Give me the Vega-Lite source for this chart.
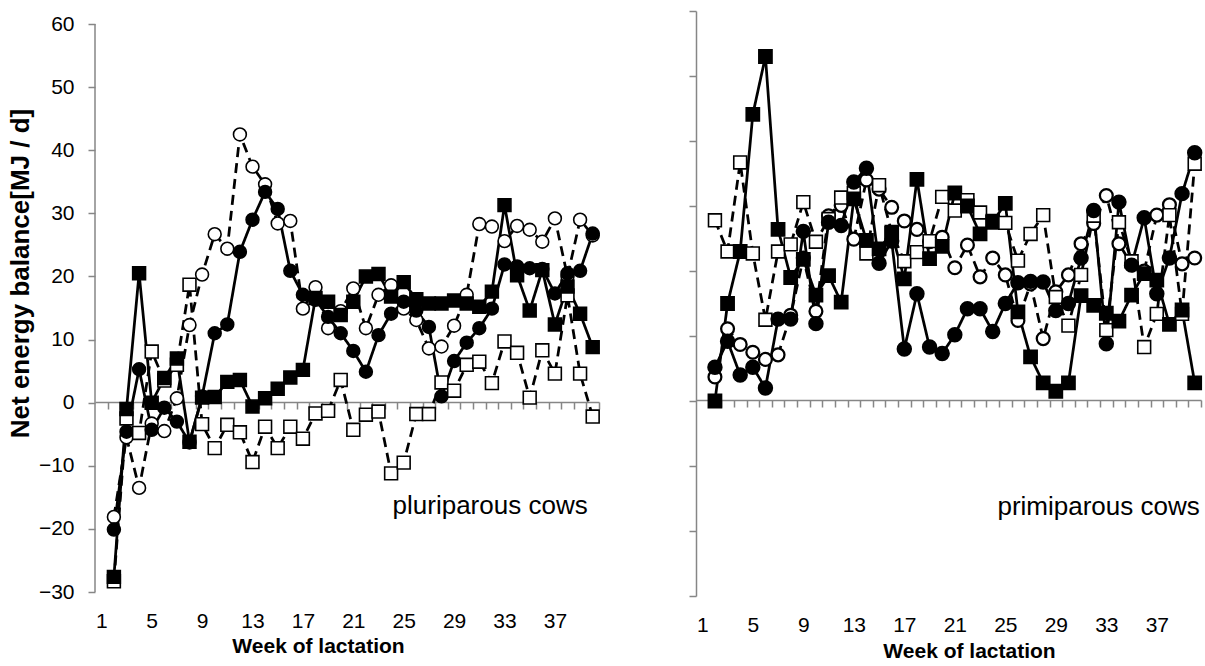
{
  "$schema": "https://vega.github.io/schema/vega-lite/v6.json",
  "padding": {"left": 7, "top": 10, "right": 0, "bottom": 0},
  "config": {"font": "Liberation Sans", "view": {"stroke": null}, "axis": {"labelColor": "black", "titleColor": "black", "grid": false}},
  "datasets": {
    "left": [
      {"week": 2, "S1": -20.1, "S2": -18.1, "S3": -27.6, "S4": -28.3},
      {"week": 3, "S1": -4.6, "S2": -5.5, "S3": -1.0, "S4": -2.5},
      {"week": 4, "S1": 5.3, "S2": -13.5, "S3": 20.5, "S4": -4.8},
      {"week": 5, "S1": -4.3, "S2": -3.3, "S3": 0.0, "S4": 8.1},
      {"week": 6, "S1": -0.8, "S2": -4.5, "S3": 3.9, "S4": 3.5},
      {"week": 7, "S1": -3.0, "S2": 0.7, "S3": 7.0, "S4": 6.0},
      {"week": 8, "S1": -6.3, "S2": 12.3, "S3": -6.2, "S4": 18.7},
      {"week": 9, "S1": 1.0, "S2": 20.3, "S3": 0.8, "S4": -3.4},
      {"week": 10, "S1": 11.0, "S2": 26.7, "S3": 0.9, "S4": -7.2},
      {"week": 11, "S1": 12.4, "S2": 24.4, "S3": 3.3, "S4": -3.5},
      {"week": 12, "S1": 23.9, "S2": 42.5, "S3": 3.6, "S4": -4.7},
      {"week": 13, "S1": 29.0, "S2": 37.4, "S3": -0.6, "S4": -9.4},
      {"week": 14, "S1": 33.4, "S2": 34.6, "S3": 0.7, "S4": -3.8},
      {"week": 15, "S1": 30.7, "S2": 28.4, "S3": 2.2, "S4": -7.2},
      {"week": 16, "S1": 20.9, "S2": 28.8, "S3": 4.0, "S4": -3.8},
      {"week": 17, "S1": 17.1, "S2": 14.9, "S3": 5.2, "S4": -5.7},
      {"week": 18, "S1": 16.3, "S2": 18.3, "S3": 16.6, "S4": -1.7},
      {"week": 19, "S1": 13.6, "S2": 11.8, "S3": 16.0, "S4": -1.3},
      {"week": 20, "S1": 11.0, "S2": 14.5, "S3": 13.9, "S4": 3.6},
      {"week": 21, "S1": 8.2, "S2": 18.1, "S3": 16.0, "S4": -4.3},
      {"week": 22, "S1": 4.9, "S2": 11.8, "S3": 20.0, "S4": -1.9},
      {"week": 23, "S1": 10.7, "S2": 17.1, "S3": 20.4, "S4": -1.4},
      {"week": 24, "S1": 14.1, "S2": 18.6, "S3": 16.8, "S4": -11.2},
      {"week": 25, "S1": 16.0, "S2": 14.9, "S3": 19.1, "S4": -9.5},
      {"week": 26, "S1": 14.6, "S2": 13.1, "S3": 16.4, "S4": -1.8},
      {"week": 27, "S1": 12.0, "S2": 8.6, "S3": 15.7, "S4": -1.8},
      {"week": 28, "S1": 1.0, "S2": 8.9, "S3": 15.7, "S4": 3.2},
      {"week": 29, "S1": 6.6, "S2": 12.2, "S3": 16.2, "S4": 1.9},
      {"week": 30, "S1": 9.5, "S2": 17.1, "S3": 15.7, "S4": 6.0},
      {"week": 31, "S1": 11.8, "S2": 28.3, "S3": 15.2, "S4": 6.5},
      {"week": 32, "S1": 14.9, "S2": 27.9, "S3": 17.6, "S4": 3.1},
      {"week": 33, "S1": 21.9, "S2": 25.6, "S3": 31.3, "S4": 9.7},
      {"week": 34, "S1": 21.6, "S2": 28.0, "S3": 20.2, "S4": 7.9},
      {"week": 35, "S1": 21.3, "S2": 27.4, "S3": 14.6, "S4": 0.8},
      {"week": 36, "S1": 21.2, "S2": 25.5, "S3": 21.0, "S4": 8.3},
      {"week": 37, "S1": 17.3, "S2": 29.2, "S3": 12.4, "S4": 4.6},
      {"week": 38, "S1": 20.5, "S2": 20.0, "S3": 18.4, "S4": 17.0},
      {"week": 39, "S1": 20.9, "S2": 29.0, "S3": 14.1, "S4": 4.6},
      {"week": 40, "S1": 26.8, "S2": 26.5, "S3": 8.8, "S4": -2.2}
    ],
    "right": [
      {"week": 2, "S1": 5.2, "S2": 3.7, "S3": 0.0, "S4": 27.8},
      {"week": 3, "S1": 9.2, "S2": 11.1, "S3": 15.0, "S4": 23.0},
      {"week": 4, "S1": 4.0, "S2": 8.7, "S3": 23.0, "S4": 36.7},
      {"week": 5, "S1": 5.2, "S2": 7.5, "S3": 44.1, "S4": 22.7},
      {"week": 6, "S1": 2.0, "S2": 6.4, "S3": 53.0, "S4": 12.5},
      {"week": 7, "S1": 12.6, "S2": 7.1, "S3": 26.4, "S4": 23.0},
      {"week": 8, "S1": 12.6, "S2": 13.2, "S3": 19.0, "S4": 24.1},
      {"week": 9, "S1": 26.1, "S2": 22.0, "S3": 21.8, "S4": 30.6},
      {"week": 10, "S1": 11.9, "S2": 13.8, "S3": 16.3, "S4": 24.5},
      {"week": 11, "S1": 27.5, "S2": 28.5, "S3": 19.3, "S4": 28.0},
      {"week": 12, "S1": 27.0, "S2": 30.1, "S3": 15.2, "S4": 31.3},
      {"week": 13, "S1": 33.7, "S2": 24.9, "S3": 31.1, "S4": 32.0},
      {"week": 14, "S1": 35.8, "S2": 34.0, "S3": 24.7, "S4": 22.7},
      {"week": 15, "S1": 21.2, "S2": 32.6, "S3": 23.4, "S4": 33.2},
      {"week": 16, "S1": 24.6, "S2": 29.8, "S3": 25.8, "S4": 26.0},
      {"week": 17, "S1": 8.0, "S2": 27.7, "S3": 18.8, "S4": 21.5},
      {"week": 18, "S1": 16.5, "S2": 26.4, "S3": 34.1, "S4": 22.9},
      {"week": 19, "S1": 8.3, "S2": 24.5, "S3": 21.9, "S4": 24.6},
      {"week": 20, "S1": 7.3, "S2": 25.2, "S3": 23.8, "S4": 31.4},
      {"week": 21, "S1": 10.2, "S2": 20.5, "S3": 32.0, "S4": 29.3},
      {"week": 22, "S1": 14.2, "S2": 24.0, "S3": 30.0, "S4": 30.9},
      {"week": 23, "S1": 14.2, "S2": 19.1, "S3": 25.7, "S4": 29.0},
      {"week": 24, "S1": 10.7, "S2": 22.0, "S3": 27.5, "S4": 27.7},
      {"week": 25, "S1": 15.0, "S2": 19.4, "S3": 30.4, "S4": 27.4},
      {"week": 26, "S1": 18.2, "S2": 12.4, "S3": 13.7, "S4": 21.6},
      {"week": 27, "S1": 18.4, "S2": 18.0, "S3": 6.8, "S4": 25.7},
      {"week": 28, "S1": 18.3, "S2": 9.6, "S3": 2.8, "S4": 28.6},
      {"week": 29, "S1": 13.9, "S2": 16.8, "S3": 1.5, "S4": 16.0},
      {"week": 30, "S1": 15.0, "S2": 19.4, "S3": 2.8, "S4": 11.6},
      {"week": 31, "S1": 22.0, "S2": 24.2, "S3": 16.2, "S4": 19.4},
      {"week": 32, "S1": 29.3, "S2": 27.3, "S3": 14.7, "S4": 28.5},
      {"week": 33, "S1": 8.8, "S2": 31.6, "S3": 13.5, "S4": 10.9},
      {"week": 34, "S1": 30.6, "S2": 24.2, "S3": 12.3, "S4": 27.5},
      {"week": 35, "S1": 20.9, "S2": 21.0, "S3": 16.3, "S4": 21.5},
      {"week": 36, "S1": 28.2, "S2": 20.0, "S3": 19.6, "S4": 8.3},
      {"week": 37, "S1": 16.5, "S2": 28.6, "S3": 18.6, "S4": 13.4},
      {"week": 38, "S1": 22.0, "S2": 30.2, "S3": 11.8, "S4": 28.6},
      {"week": 39, "S1": 31.9, "S2": 21.1, "S3": 14.0, "S4": 13.4},
      {"week": 40, "S1": 38.2, "S2": 22.0, "S3": 2.8, "S4": 36.5}
    ]
  },
  "spacing": 85,
  "hconcat": [
    {
      "width": 504,
      "height": 585,
      "resolve": {"axis": {"x": "independent"}},
      "layer": [
        {
          "data": {"values": [{}]},
          "mark": {"type": "rule", "color": "#868686", "strokeWidth": 1.5},
          "encoding": {
            "x": {"datum": 0.5, "type": "quantitative", "scale": {"domain": [0.5, 40.5], "nice": false, "zero": false}, "axis": null},
            "y": {"datum": -30, "type": "quantitative", "scale": {"domain": [-30.63, 62.06], "nice": false, "zero": false}},
            "y2": {"datum": 60}
          }
        },
        {
          "data": {"name": "left"},
          "transform": [{"fold": ["S2", "S4", "S3", "S1"], "as": ["series", "value"]}],
          "mark": {"type": "line", "color": "black", "strokeWidth": 2.75},
          "encoding": {
            "x": {"field": "week", "type": "quantitative", "scale": {"domain": [0.5, 40.5], "nice": false, "zero": false},
              "axis": {"orient": "bottom", "offset": -194, "values": [1.5,2.5,3.5,4.5,5.5,6.5,7.5,8.5,9.5,10.5,11.5,12.5,13.5,14.5,15.5,16.5,17.5,18.5,19.5,20.5,21.5,22.5,23.5,24.5,25.5,26.5,27.5,28.5,29.5,30.5,31.5,32.5,33.5,34.5,35.5,36.5,37.5,38.5,39.5,40.5], "labels": false, "title": null, "domainColor": "#868686", "domainWidth": 1.5, "tickColor": "#868686", "tickSize": 7, "tickWidth": 1.5}},
            "y": {"field": "value", "type": "quantitative", "scale": {"domain": [-30.63, 62.06], "nice": false, "zero": false},
              "axis": {"values": [-30,-20,-10,0,10,20,30,40,50,60], "domain": false, "tickColor": "#868686", "tickSize": 7, "tickWidth": 1.5, "labelFontSize": 21, "labelPadding": 14, "title": "Net energy balance[MJ / d]", "titleFontSize": 26, "titleFontWeight": "bold", "titlePadding": 5, "titleY": 262}},
            "detail": {"field": "series"},
            "strokeDash": {"field": "series", "type": "nominal", "scale": {"domain": ["S1", "S2", "S3", "S4"], "range": [[1, 0], [10, 6], [1, 0], [10, 6]]}, "legend": null}
          }
        },
        {
          "data": {"name": "left"},
          "transform": [{"fold": ["S2", "S4", "S3", "S1"], "as": ["series", "value"]}],
          "mark": {"type": "point", "filled": true, "size": 165, "strokeWidth": 1.6, "opacity": 1},
          "encoding": {
            "x": {"field": "week", "type": "quantitative", "scale": {"domain": [0.5, 40.5], "nice": false, "zero": false},
              "axis": {"orient": "bottom", "values": [1,5,9,13,17,21,25,29,33,37], "domain": false, "ticks": false, "tickSize": 0, "labelFontSize": 21, "labelPadding": 14, "labelFlush": false, "labelOverlap": false, "title": "Week of lactation", "titleFontSize": 21, "titleFontWeight": "bold", "titlePadding": 4, "titleX": 223}},
            "y": {"field": "value", "type": "quantitative", "scale": {"domain": [-30.63, 62.06], "nice": false, "zero": false}},
            "shape": {"field": "series", "type": "nominal", "scale": {"domain": ["S1", "S2", "S3", "S4"], "range": ["circle", "circle", "square", "square"]}, "legend": null},
            "fill": {"field": "series", "type": "nominal", "scale": {"domain": ["S1", "S2", "S3", "S4"], "range": ["black", "white", "black", "white"]}, "legend": null},
            "stroke": {"field": "series", "type": "nominal", "scale": {"domain": ["S1", "S2", "S3", "S4"], "range": ["black", "black", "black", "black"]}, "legend": null}
          }
        },
        {
          "data": {"values": [{}]},
          "mark": {"type": "text", "text": "pluriparous cows", "align": "right", "baseline": "alphabetic", "fontSize": 26},
          "encoding": {
            "x": {"datum": 39.6, "type": "quantitative", "axis": null},
            "y": {"datum": -17.7, "type": "quantitative"}
          }
        }
      ]
    },
    {
      "width": 505,
      "height": 585,
      "resolve": {"axis": {"x": "independent"}},
      "layer": [
        {
          "data": {"name": "right"},
          "transform": [{"fold": ["S2", "S4", "S3", "S1"], "as": ["series", "value"]}],
          "mark": {"type": "line", "color": "black", "strokeWidth": 2.75},
          "encoding": {
            "x": {"field": "week", "type": "quantitative", "scale": {"domain": [0.5, 40.5], "nice": false, "zero": false},
              "axis": {"orient": "bottom", "offset": -196, "values": [1.5,2.5,3.5,4.5,5.5,6.5,7.5,8.5,9.5,10.5,11.5,12.5,13.5,14.5,15.5,16.5,17.5,18.5,19.5,20.5,21.5,22.5,23.5,24.5,25.5,26.5,27.5,28.5,29.5,30.5,31.5,32.5,33.5,34.5,35.5,36.5,37.5,38.5,39.5,40.5], "labels": false, "title": null, "domainColor": "#868686", "domainWidth": 1.5, "tickColor": "#868686", "tickSize": 7, "tickWidth": 1.5}},
            "y": {"field": "value", "type": "quantitative", "scale": {"domain": [-30, 60], "nice": false, "zero": false},
              "axis": {"values": [-30,-20,-10,0,10,20,30,40,50,60], "labels": false, "title": null, "domainColor": "#868686", "domainWidth": 1.5, "tickColor": "#868686", "tickSize": 7, "tickWidth": 1.5}},
            "detail": {"field": "series"},
            "strokeDash": {"field": "series", "type": "nominal", "scale": {"domain": ["S1", "S2", "S3", "S4"], "range": [[1, 0], [10, 6], [1, 0], [10, 6]]}, "legend": null}
          }
        },
        {
          "data": {"name": "right"},
          "transform": [{"fold": ["S2", "S4", "S3", "S1"], "as": ["series", "value"]}],
          "mark": {"type": "point", "filled": true, "size": 165, "opacity": 1},
          "encoding": {
            "x": {"field": "week", "type": "quantitative", "scale": {"domain": [0.5, 40.5], "nice": false, "zero": false},
              "axis": {"orient": "bottom", "values": [1,5,9,13,17,21,25,29,33,37], "domain": false, "ticks": false, "tickSize": 0, "labelFontSize": 21, "labelPadding": 18, "labelFlush": false, "labelOverlap": false, "title": "Week of lactation", "titleFontSize": 21, "titleFontWeight": "bold", "titlePadding": 5, "titleX": 273}},
            "y": {"field": "value", "type": "quantitative", "scale": {"domain": [-30, 60], "nice": false, "zero": false}},
            "shape": {"field": "series", "type": "nominal", "scale": {"domain": ["S1", "S2", "S3", "S4"], "range": ["circle", "circle", "square", "square"]}, "legend": null},
            "fill": {"field": "series", "type": "nominal", "scale": {"domain": ["S1", "S2", "S3", "S4"], "range": ["black", "white", "black", "white"]}, "legend": null},
            "stroke": {"field": "series", "type": "nominal", "scale": {"domain": ["S1", "S2", "S3", "S4"], "range": ["#9BBB59", "black", "black", "black"]}, "legend": null},
            "strokeWidth": {"field": "series", "type": "nominal", "scale": {"domain": ["S1", "S2", "S3", "S4"], "range": [2.6, 1.6, 1.6, 1.6]}, "legend": null}
          }
        },
        {
          "data": {"values": [{}]},
          "mark": {"type": "text", "text": "primiparous  cows", "align": "right", "baseline": "alphabetic", "fontSize": 26},
          "encoding": {
            "x": {"datum": 40.4, "type": "quantitative", "axis": null},
            "y": {"datum": -17.5, "type": "quantitative"}
          }
        }
      ]
    }
  ]
}
